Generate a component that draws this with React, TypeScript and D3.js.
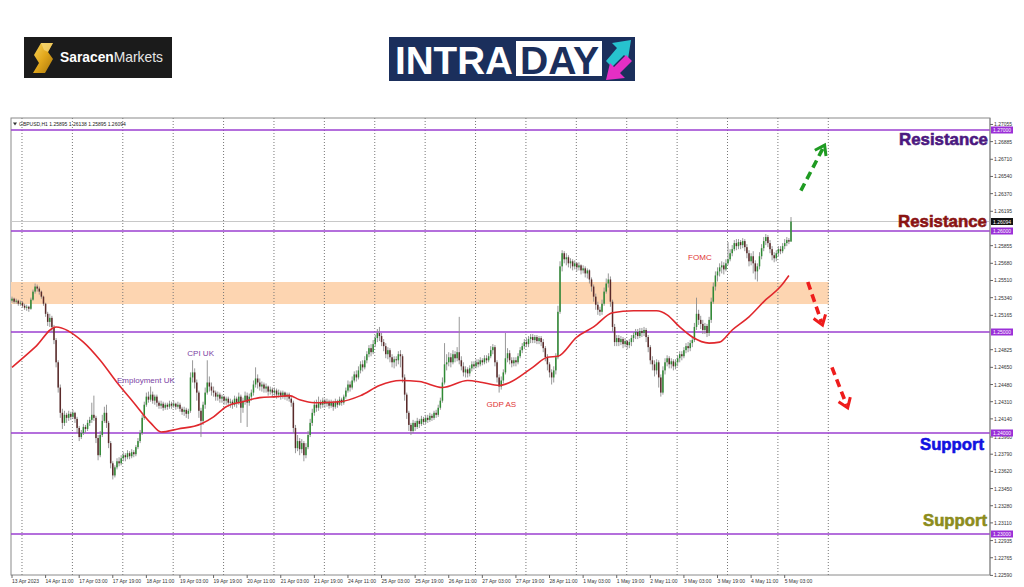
import React from "react";
import * as d3 from "d3";

type Bar = [number, number, number]; // [high, low, close] in pips above 1.2000; open = previous close

const symbolTitle = "GBPUSD,H1";
const lastOHLC = ["1.25895", "1.26138", "1.25895", "1.26094"];
const firstOpen = 531;

const apr13: Bar[] = [[535,529,533],[534,528,530],[533,528,531],[532,526,528],[531,526,529]];
const apr14: Bar[] = [[530,524,526],[528,522,524],[527,521,525],[526,520,523],[534,522,532],[542,531,540],[548,538,545],[547,540,543],[545,537,540],[541,533,535],[536,526,528],[529,515,518],[520,506,510],[518,505,514],[516,500,505],[507,488,492],[494,465,470],[472,440,445],[448,415,420],[424,404,410],[422,407,418],[420,410,415],[422,412,419],[421,413,416]];
const apr17: Bar[] = [[423,414,420],[421,410,414],[416,400,405],[407,392,396],[403,394,400],[409,398,406],[408,400,404],[413,402,410],[416,407,413],[430,410,418],[437,412,415],[417,390,395],[398,373,378],[402,376,398],[418,396,412],[426,410,420],[428,405,410],[412,385,390],[392,365,370],[372,354,358],[368,356,366],[375,364,372],[376,367,370],[378,368,375]];
const apr18: Bar[] = [[381,372,378],[380,372,376],[383,374,380],[382,374,377],[384,375,381],[383,376,379],[388,377,386],[395,384,392],[403,390,400],[418,398,415],[431,413,428],[440,426,436],[441,430,433],[446,431,438],[441,429,432],[438,428,436],[438,426,430],[432,424,427],[432,424,429],[431,422,425],[430,423,428],[430,423,426],[432,424,429],[431,424,427]];
const apr19: Bar[] = [[432,425,429],[430,423,426],[431,424,428],[430,421,424],[426,418,421],[426,417,423],[425,415,419],[424,414,422],[460,420,455],[472,450,460],[464,444,450],[453,432,440],[442,415,422],[425,396,412],[431,408,428],[445,424,440],[472,438,450],[456,441,446],[450,437,442],[446,436,440],[442,432,436],[441,432,438],[440,430,434],[438,430,436]];
const apr20: Bar[] = [[437,428,432],[436,428,434],[436,426,430],[434,425,431],[433,424,428],[437,426,434],[436,425,430],[440,428,436],[438,410,425],[435,420,432],[441,428,437],[440,406,430],[439,427,436],[443,432,440],[452,437,448],[465,445,454],[458,444,450],[454,442,446],[451,441,448],[450,440,444],[449,440,446],[447,437,441],[446,438,443],[445,436,440]];
const apr21: Bar[] = [[445,437,442],[444,434,438],[443,435,440],[442,433,437],[442,434,440],[441,433,436],[440,432,438],[440,431,434],[436,426,430],[432,400,405],[408,380,385],[398,382,392],[395,378,384],[394,380,390],[392,372,378],[390,375,386],[402,384,398],[414,396,410],[424,407,420],[432,417,428],[433,421,425],[436,422,430],[433,424,428],[435,425,432]];
const apr24: Bar[] = [[434,425,429],[434,426,431],[433,424,427],[433,425,430],[432,422,426],[434,424,431],[433,425,428],[436,427,433],[435,427,430],[438,428,436],[445,434,442],[452,440,448],[451,441,445],[456,443,452],[461,450,458],[462,451,455],[466,453,462],[471,459,468],[472,461,465],[476,463,472],[481,469,478],[487,475,484],[488,476,480],[492,478,488]];
const apr25: Bar[] = [[497,485,494],[503,490,499],[505,491,496],[499,486,490],[493,481,486],[489,474,478],[485,473,482],[484,470,475],[478,465,470],[476,464,473],[476,466,472],[481,468,478],[482,465,476],[478,450,455],[458,432,438],[440,414,420],[422,402,408],[410,398,402],[413,400,410],[412,402,406],[415,404,412],[414,405,409],[417,407,414],[416,408,411]];
const apr26: Bar[] = [[418,409,415],[418,410,413],[420,411,417],[419,412,415],[422,413,420],[423,415,418],[428,416,425],[435,423,432],[455,430,450],[489,448,468],[478,462,470],[480,466,475],[479,465,470],[482,468,478],[481,470,474],[485,471,480],[515,468,472],[476,462,466],[470,456,460],[466,455,463],[465,455,459],[467,456,464],[471,461,468],[471,463,466]];
const apr27: Bar[] = [[473,464,470],[473,465,468],[475,466,472],[474,467,470],[477,468,474],[477,469,472],[479,470,476],[486,474,482],[488,478,485],[487,466,470],[472,450,455],[458,440,446],[456,443,452],[463,449,460],[499,458,474],[484,470,479],[482,468,472],[475,465,469],[475,466,472],[475,466,470],[479,468,476],[485,474,482],[489,479,486],[493,483,490]];
const apr28: Bar[] = [[494,485,488],[496,485,493],[498,489,495],[498,489,492],[497,489,495],[497,488,491],[496,488,494],[496,486,490],[493,480,484],[486,471,475],[478,462,468],[470,455,460],[463,448,455],[466,450,462],[479,458,475],[526,473,520],[570,518,565],[581,560,578],[580,568,572],[578,566,574],[576,564,568],[573,563,570],[572,561,565],[571,562,568]];
const may1: Bar[] = [[569,560,564],[569,561,566],[567,557,561],[566,558,563],[565,554,558],[563,553,561],[562,548,552],[554,540,545],[547,530,535],[538,522,527],[530,517,522],[525,516,520],[532,517,528],[544,526,540],[553,538,548],[558,544,552],[555,525,530],[532,500,505],[508,486,490],[497,486,494],[497,486,490],[496,487,493],[495,484,488],[494,485,491]];
const may2: Bar[] = [[492,483,487],[493,484,490],[497,486,494],[500,490,497],[503,493,500],[503,493,496],[504,494,501],[504,495,499],[505,496,502],[504,490,495],[497,480,485],[487,468,472],[476,462,468],[472,456,462],[473,458,470],[472,445,455],[458,436,440],[466,438,462],[474,458,470],[477,466,474],[476,464,468],[474,464,471],[473,462,466],[473,463,470]];
const may3: Bar[] = [[477,466,474],[481,470,478],[481,472,476],[485,474,482],[489,479,486],[490,480,484],[492,481,489],[495,485,492],[509,490,505],[534,502,518],[522,507,512],[516,503,508],[512,498,502],[509,498,506],[508,495,499],[515,496,512],[534,509,530],[549,528,545],[560,541,556],[564,550,560],[568,555,564],[570,558,566],[569,557,562],[572,560,568]];
const may4: Bar[] = [[589,566,572],[582,570,578],[586,575,582],[591,580,588],[592,581,585],[592,582,589],[591,582,586],[593,583,590],[592,580,584],[587,573,578],[581,565,570],[578,566,575],[580,558,568],[571,552,560],[568,550,565],[579,562,575],[587,572,583],[594,580,590],[597,586,594],[596,584,588],[591,578,582],[585,571,576],[579,569,573],[581,570,578]];
const may5: Bar[] = [[585,575,582],[585,577,580],[588,578,585],[592,582,588],[594,585,591],[593,587,589.5],[613.8,589.5,609.4]];

const days = [apr13, apr14, apr17, apr18, apr19, apr20, apr21, apr24, apr25, apr26, apr27, apr28, may1, may2, may3, may4, may5];

// moving average (read at selected bars): bar index and value (pips above 1.2000)
const maIdx = [0, 11, 21, 34, 42, 50, 58, 66, 71, 79, 90, 96, 102, 110, 118, 126, 132, 137, 144, 156, 166, 175, 185, 194, 205, 217, 224, 232, 237, 248, 255, 260, 269, 277, 286, 296, 307, 312, 318, 324, 332, 337, 343, 351, 359, 366, 370];
const maVal = [465, 485, 505, 490, 472, 450, 430, 410, 401, 404, 409, 416, 426, 431, 435, 436, 437, 433, 430, 431, 437, 447, 452, 451, 445, 452, 450, 447, 450, 465, 475, 476, 495, 505, 519, 521, 521, 517, 505, 495, 489, 490, 502, 515, 532, 545, 556];

const xTickLabels = ["13 Apr 2023", "14 Apr 11:00", "17 Apr 03:00", "17 Apr 19:00", "18 Apr 11:00", "19 Apr 03:00", "19 Apr 19:00", "20 Apr 11:00", "21 Apr 03:00", "21 Apr 19:00", "24 Apr 11:00", "25 Apr 03:00", "25 Apr 19:00", "26 Apr 11:00", "27 Apr 03:00", "27 Apr 19:00", "28 Apr 11:00", "1 May 03:00", "1 May 19:00", "2 May 11:00", "3 May 03:00", "3 May 19:00", "4 May 11:00", "5 May 03:00"];
const xTickStep = 16;
const dayStarts = [5, 29, 53, 77, 101, 125, 149, 173, 197, 221, 245, 269, 293, 317, 341, 365, 389];

const priceTicks = [1.27055, 1.26885, 1.2671, 1.2654, 1.2637, 1.26195, 1.25855, 1.2568, 1.2551, 1.2534, 1.25165, 1.24825, 1.2465, 1.2448, 1.2431, 1.2414, 1.2396, 1.2379, 1.2362, 1.2345, 1.2328, 1.2311, 1.22935, 1.22765, 1.2259];
const levels = [1.27, 1.26, 1.25, 1.24, 1.23];
const bidPrice = 1.26094;
const zoneLow = 1.25277;
const zoneHigh = 1.25495;
const zoneEndBar = 389;

const events = [
  { text: "Employment UK", i: 50, v: 452, color: "#7b3fa3" },
  { text: "CPI UK", i: 83.5, v: 478, color: "#7b3fa3" },
  { text: "GDP AS", i: 226, v: 428, color: "#e03434" },
  { text: "FOMC", i: 322, v: 573, color: "#e03434" },
];

const arrows = [
  { from: [375.7, 640], to: [387, 685], color: "#1f9b22" },
  { from: [379, 549.5], to: [386, 507], color: "#ee1c1c" },
  { from: [390.5, 465], to: [398, 425], color: "#ee1c1c" },
];

const sideLabels = [
  { text: "Resistance", price: 1.26901, color: "#4b1880", right: 988 },
  { text: "Resistance", price: 1.26099, color: "#8a1313", right: 987 },
  { text: "Support", price: 1.23891, color: "#1212e0", right: 984 },
  { text: "Support", price: 1.23129, color: "#8c8c1c", right: 987 },
];

const FONT = "'Liberation Sans', Arial, sans-serif";

export default function App() {
  const L = 11, R = 990, T = 118, B = 575;
  const x = d3.scaleLinear().domain([0, 371]).range([12, 791]);
  const y = d3.scaleLinear().domain([1.23, 1.27]).range([534, 130]);
  const p = (v: number) => 1.2 + v / 10000;

  const bars: { i: number; o: number; h: number; l: number; c: number }[] = [];
  let prev = firstOpen;
  let idx = 0;
  for (const day of days) {
    for (const [h, l, c] of day) {
      bars.push({ i: idx++, o: prev, h, l, c });
      prev = c;
    }
  }

  const maPts: [number, number][] = maIdx.map((b, k) => [x(b), y(p(maVal[k]))]);
  const maPath = d3.line().curve(d3.curveMonotoneX)(maPts) || "";

  const arrowEls = arrows.map((a, k) => {
    const x1 = x(a.from[0]), y1 = y(p(a.from[1]));
    const x2 = x(a.to[0]), y2 = y(p(a.to[1]));
    const dx = x2 - x1, dy = y2 - y1;
    const len = Math.hypot(dx, dy);
    const ux = dx / len, uy = dy / len;
    const ang = (35 * Math.PI) / 180;
    const hl = 11;
    const rot = (a2: number) => [
      x2 - hl * (ux * Math.cos(a2) - uy * Math.sin(a2)),
      y2 - hl * (ux * Math.sin(a2) + uy * Math.cos(a2)),
    ];
    const [ax, ay] = rot(ang);
    const [bx, by] = rot(-ang);
    return (
      <g key={k} stroke={a.color} fill="none" strokeWidth={3.6}>
        <line x1={x1} y1={y1} x2={x2 - ux * 3} y2={y2 - uy * 3} strokeDasharray="8,5" />
        <path d={`M${ax},${ay}L${x2},${y2}L${bx},${by}`} strokeLinejoin="miter" strokeWidth={3} />
      </g>
    );
  });

  return (
    <svg width={1024} height={587} style={{ position: "absolute", left: 0, top: 0, background: "#fff" }} fontFamily={FONT}>
      <defs>
        <clipPath id="plot"><rect x={L} y={T} width={R - L} height={B - T} /></clipPath>
        <linearGradient id="gold" x1="0" y1="0" x2="1" y2="1">
          <stop offset="0" stopColor="#f7d35a" />
          <stop offset="0.5" stopColor="#e2a81c" />
          <stop offset="1" stopColor="#a8760c" />
        </linearGradient>
      </defs>
      <rect x={0} y={0} width={1024} height={587} fill="#fff" />

      {/* Saracen Markets logo */}
      <rect x={24} y={37} width={148} height={41} fill="#1b1b1b" />
      <path d="M41,43 L53,43 L48,52 L53,59 L45,73 L33,73 L39,63 L34,55 Z" fill="url(#gold)" />
      <path d="M41,43 L53,43 L48,52 L44,50 Z" fill="#f9e08a" opacity={0.6} />
      <text x={60} y={62} fontSize={14.5} fill="#fff" textLength={103} lengthAdjust="spacingAndGlyphs">
        <tspan fontWeight="bold">Saracen</tspan><tspan fill="#e6e6e6">Markets</tspan>
      </text>

      {/* INTRADAY logo */}
      <rect x={389} y={37} width={246} height={44} fill="#1b2f5c" />
      <text x={395} y={74} fontSize={39} fontWeight="bold" fill="#fff" textLength={118} lengthAdjust="spacingAndGlyphs">INTRA</text>
      <rect x={516} y={41} width={86} height={35} fill="#fff" />
      <text x={520} y={74} fontSize={39} fontWeight="bold" fill="#1b2f5c" textLength={79} lengthAdjust="spacingAndGlyphs">DAY</text>
      <polygon points="606,61 612,67 624,55 628,59 631,40 612,43 617,48" fill="#27c3cf" />
      <polygon points="632,61 626,55 614,67 610,63 606,80 625,78 620,73" fill="#e52fc4" />

      {/* chart frame */}
      <rect x={L} y={T} width={R - L} height={B - T} fill="#fff" stroke="#8a8a8a" strokeWidth={1} />

      <g clipPath="url(#plot)">
        {/* zone */}
        <rect x={L} y={y(zoneHigh)} width={x(zoneEndBar) - L} height={y(zoneLow) - y(zoneHigh)} fill="#fdd5b1" />
        {/* day grid */}
        {dayStarts.map((d) => (
          <line key={d} x1={x(d) - 0.5} x2={x(d) - 0.5} y1={T} y2={B} stroke="#777" strokeWidth={1} strokeDasharray="1,2" />
        ))}
        {/* bid line */}
        <line x1={L} x2={R} y1={y(bidPrice)} y2={y(bidPrice)} stroke="#c8c8c8" strokeWidth={1} />
        {/* levels */}
        {levels.map((lv) => (
          <line key={lv} x1={L} x2={R} y1={y(lv)} y2={y(lv)} stroke="#9b3fd0" strokeWidth={1.6} />
        ))}
        {/* candles */}
        {bars.map((b) => {
          const cx = x(b.i);
          const up = b.c >= b.o;
          const top = y(p(Math.max(b.o, b.c)));
          const bot = y(p(Math.min(b.o, b.c)));
          return (
            <g key={b.i}>
              <line x1={cx} x2={cx} y1={y(p(b.h))} y2={y(p(b.l))} stroke="#8c8c8c" strokeWidth={0.9} />
              <rect x={cx - 0.75} y={top} width={1.5} height={Math.max(0.8, bot - top)} fill={up ? "#2f8a34" : "#5a2a2a"} />
            </g>
          );
        })}
        {/* moving average */}
        <path d={maPath} fill="none" stroke="#e0282d" strokeWidth={1.6} />
        {/* events */}
        {events.map((e) => (
          <text key={e.text} x={x(e.i)} y={y(p(e.v))} fontSize={8} fill={e.color} dominantBaseline="middle">{e.text}</text>
        ))}
        {arrowEls}
        {/* side labels */}
        {sideLabels.map((s, k) => {
          const w = s.text === "Resistance" ? 89 : 64;
          return (
            <text key={k} x={s.right} y={y(s.price)} textAnchor="end" dominantBaseline="central" fontSize={17} fontWeight="bold"
              fill={s.color} stroke={s.color} strokeWidth={0.6} textLength={w} lengthAdjust="spacingAndGlyphs">{s.text}</text>
          );
        })}
      </g>

      {/* header */}
      <path d={`M13,122.5 L17,122.5 L15,125.5 Z`} fill="#333" />
      <text x={19} y={126} fontSize={5} fill="#222">{symbolTitle} {lastOHLC.join(" ")}</text>

      {/* price axis */}
      <line x1={R} x2={R} y1={T} y2={B} stroke="#8a8a8a" />
      {priceTicks.map((t) => (
        <g key={t}>
          <line x1={R} x2={R + 3} y1={y(t)} y2={y(t)} stroke="#666" />
          <text x={R + 4} y={y(t)} fontSize={5} fill="#333" dominantBaseline="central">{t.toFixed(5)}</text>
        </g>
      ))}
      {levels.map((lv) => (
        <g key={lv}>
          <rect x={R + 1} y={y(lv) - 3.5} width={22} height={7} fill="#9b30d8" />
          <text x={R + 3} y={y(lv)} fontSize={5} fill="#fff" dominantBaseline="central">{lv.toFixed(5)}</text>
        </g>
      ))}
      <rect x={R + 1} y={y(bidPrice) - 3.5} width={22} height={7} fill="#111" />
      <text x={R + 3} y={y(bidPrice)} fontSize={5} fill="#fff" dominantBaseline="central">{bidPrice.toFixed(5)}</text>

      {/* time axis */}
      {xTickLabels.map((t, k) => (
        <g key={t}>
          <line x1={x(k * xTickStep)} x2={x(k * xTickStep)} y1={B} y2={B + 3} stroke="#666" />
          <text x={x(k * xTickStep)} y={583} fontSize={5} fill="#333">{t}</text>
        </g>
      ))}
    </svg>
  );
}
